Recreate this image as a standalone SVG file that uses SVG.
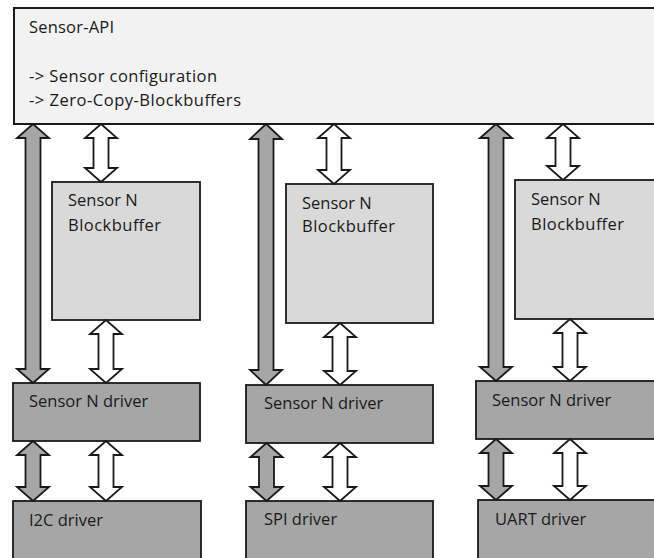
<svg xmlns="http://www.w3.org/2000/svg" width="654" height="558" viewBox="0 0 654 558">
<style>
  .api { fill: #f2f2f2; stroke: #1a1a1a; stroke-width: 2; }
  .buf { fill: #d9d9d9; stroke: #1a1a1a; stroke-width: 1.8; }
  .drv { fill: #a6a6a6; stroke: #1a1a1a; stroke-width: 1.8; }
  .ga { fill: #a6a6a6; stroke: #1a1a1a; stroke-width: 1.8; stroke-linejoin: miter; }
  .wa { fill: #ffffff; stroke: #1a1a1a; stroke-width: 1.8; stroke-linejoin: miter; }
  text { font-family: "Open Sans", "Noto Sans", "Liberation Sans", sans-serif; font-size: 16.5px; fill: #1a1a1a; }
</style>
<rect x="0" y="0" width="654" height="558" fill="#ffffff"/>

<g id="sensor-api">
  <rect class="api" x="14" y="8" width="650" height="116"/>
  <text x="29" y="33" textLength="85" lengthAdjust="spacing">Sensor-API</text>
  <text x="29" y="82" textLength="188" lengthAdjust="spacing">-&gt; Sensor configuration</text>
  <text x="29" y="106" textLength="212" lengthAdjust="spacing">-&gt; Zero-Copy-Blockbuffers</text>
</g>

<g id="blockbuffer-1">
  <rect class="buf" x="52" y="182" width="148" height="138"/>
  <text x="68" y="206">Sensor N</text>
  <text x="68" y="231" textLength="93" lengthAdjust="spacing">Blockbuffer</text>
</g>
<g id="blockbuffer-2">
  <rect class="buf" x="286" y="184" width="147" height="139"/>
  <text x="302" y="209">Sensor N</text>
  <text x="302" y="232" textLength="93" lengthAdjust="spacing">Blockbuffer</text>
</g>
<g id="blockbuffer-3">
  <rect class="buf" x="515" y="180" width="150" height="139"/>
  <text x="531" y="205">Sensor N</text>
  <text x="531" y="230" textLength="93" lengthAdjust="spacing">Blockbuffer</text>
</g>

<g id="sensor-driver-1">
  <rect class="drv" x="13" y="383" width="187" height="58"/>
  <text x="29" y="407">Sensor N driver</text>
</g>
<g id="sensor-driver-2">
  <rect class="drv" x="246" y="385" width="187" height="58"/>
  <text x="264" y="409">Sensor N driver</text>
</g>
<g id="sensor-driver-3">
  <rect class="drv" x="476" y="381" width="190" height="58"/>
  <text x="492" y="406">Sensor N driver</text>
</g>

<g id="i2c-driver">
  <rect class="drv" x="13" y="501" width="188" height="70"/>
  <text x="29" y="526">I2C driver</text>
</g>
<g id="spi-driver">
  <rect class="drv" x="246" y="501" width="187" height="70"/>
  <text x="264" y="525">SPI driver</text>
</g>
<g id="uart-driver">
  <rect class="drv" x="478" y="500" width="190" height="70"/>
  <text x="495" y="525">UART driver</text>
</g>

<g id="connectors">
  <!-- column 1 -->
  <path class="ga" d="M33,124 L49,138 L40.5,138 L40.5,369 L49,369 L33,383 L17,369 L25.5,369 L25.5,138 L17,138 Z"/>
  <path class="wa" d="M101,124 L117,138 L108.5,138 L108.5,168 L117,168 L101,182 L85,168 L93.5,168 L93.5,138 L85,138 Z"/>
  <path class="wa" d="M106,320 L122,334 L113.5,334 L113.5,369 L122,369 L106,383 L90,369 L98.5,369 L98.5,334 L90,334 Z"/>
  <path class="ga" d="M33,441 L49,455 L40.5,455 L40.5,487 L49,487 L33,501 L17,487 L25.5,487 L25.5,455 L17,455 Z"/>
  <path class="wa" d="M106,441 L122,455 L113.5,455 L113.5,487 L122,487 L106,501 L90,487 L98.5,487 L98.5,455 L90,455 Z"/>
  <!-- column 2 -->
  <path class="ga" d="M266,124 L282,139 L273.5,139 L273.5,370 L282,370 L266,385 L250,370 L258.5,370 L258.5,139 L250,139 Z"/>
  <path class="wa" d="M334,124 L350,138 L341.5,138 L341.5,170 L350,170 L334,184 L318,170 L326.5,170 L326.5,138 L318,138 Z"/>
  <path class="wa" d="M340,323 L356,337 L347.5,337 L347.5,371 L356,371 L340,385 L324,371 L332.5,371 L332.5,337 L324,337 Z"/>
  <path class="ga" d="M266.5,443 L282.5,457 L274,457 L274,487 L282.5,487 L266.5,501 L250.5,487 L259,487 L259,457 L250.5,457 Z"/>
  <path class="wa" d="M340,443 L356,457 L347.5,457 L347.5,487 L356,487 L340,501 L324,487 L332.5,487 L332.5,457 L324,457 Z"/>
  <!-- column 3 -->
  <path class="ga" d="M496,124 L512,138 L503.5,138 L503.5,367 L512,367 L496,381 L480,367 L488.5,367 L488.5,138 L480,138 Z"/>
  <path class="wa" d="M563,124 L579,138 L570.5,138 L570.5,166 L579,166 L563,180 L547,166 L555.5,166 L555.5,138 L547,138 Z"/>
  <path class="wa" d="M570,319 L586,333 L577.5,333 L577.5,367 L586,367 L570,381 L554,367 L562.5,367 L562.5,333 L554,333 Z"/>
  <path class="ga" d="M496,439 L512,453 L503.5,453 L503.5,486 L512,486 L496,500 L480,486 L488.5,486 L488.5,453 L480,453 Z"/>
  <path class="wa" d="M570,439 L586,453 L577.5,453 L577.5,486 L586,486 L570,500 L554,486 L562.5,486 L562.5,453 L554,453 Z"/>
</g>
</svg>
